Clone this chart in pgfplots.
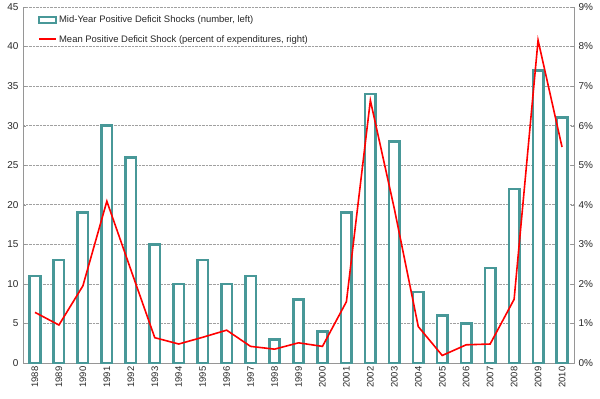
\documentclass[border=0pt]{standalone}
\usepackage{fontspec}
\setmainfont{Liberation Sans}
\usepackage{pgfplots}
\pgfplotsset{compat=1.18}
\definecolor{tealbar}{RGB}{72,152,152}
\definecolor{gridg}{RGB}{160,160,160}
\definecolor{axg}{RGB}{150,150,150}
\definecolor{txt}{RGB}{40,40,40}
\begin{document}
\begin{tikzpicture}
\pgfplotsset{
  common/.style={
    scale only axis, width=551bp, height=356bp,
    xmin=-0.5, xmax=22.5,
    /pgf/number format/assume math mode=true,
    tick label style={font=\fontsize{10}{12}\selectfont, text=txt},
    tick style={axg},
    major tick length=3bp,
    axis line style={axg, line width=0.8bp},
  }
}
\begin{axis}[common,
  ymin=0, ymax=45, ytick={0,5,...,45},
  axis y line*=left, axis x line*=bottom,
  xtick={0,...,22},
  xticklabels={1988,1989,1990,1991,1992,1993,1994,1995,1996,1997,1998,1999,2000,2001,2002,2003,2004,2005,2006,2007,2008,2009,2010},
  x tick label style={rotate=90, anchor=east, font=\fontsize{9.5}{11}\selectfont},
  xtick style={draw=none},
  minor xtick={-0.5,0.5,...,22.5},
  minor tick length=3bp,
  minor x tick style={axg},
  ymajorgrids, grid style={gridg, densely dotted, line width=0.6bp},
  yticklabel style={xshift=-1bp},
]
\addplot[ybar, bar width=10.5bp, draw=tealbar, line width=2.6bp, fill=white] coordinates {
(0,11) (1,13) (2,19) (3,30) (4,26) (5,15) (6,10) (7,13) (8,10) (9,11) (10,3) (11,8) (12,4) (13,19) (14,34) (15,28) (16,9) (17,6) (18,5) (19,12) (20,22) (21,37) (22,31)};
\end{axis}
\begin{axis}[common, name=ax,
  ymin=0, ymax=9, ytick={0,...,9},
  axis y line*=right, axis x line=none,
  yticklabel={\pgfmathprintnumber{\tick}\%},
  yticklabel style={xshift=1bp},
  legend style={at={(0.022,0.987)}, anchor=north west, draw=none, fill=none,
    font=\fontsize{9.5}{11}\selectfont, text=txt, row sep=7bp},
  legend cell align=left,
]
\addlegendimage{area legend, draw=tealbar, line width=1.6bp, fill=white}
\addlegendentry{Mid-Year Positive Deficit Shocks (number, left)}
\addlegendimage{line legend, draw=red, line width=1.8bp}
\addlegendentry{Mean Positive Deficit Shock (percent of expenditures, right)}
\addplot[red, line width=1.6bp, forget plot] coordinates {
(0,1.28) (1,0.96) (2,1.95) (3,4.09) (4,2.36) (5,0.64) (6,0.48) (7,0.65) (8,0.83) (9,0.42) (10,0.35) (11,0.51) (12,0.42) (13,1.55) (14,6.64) (15,3.9) (16,0.92) (17,0.19) (18,0.46) (19,0.48) (20,1.61) (21,8.16) (22,5.46)};
\end{axis}
\pgfresetboundingbox
\path ([xshift=-23bp,yshift=-36bp]ax.south west) rectangle ([xshift=26bp,yshift=7bp]ax.north east);
\end{tikzpicture}
\end{document}
